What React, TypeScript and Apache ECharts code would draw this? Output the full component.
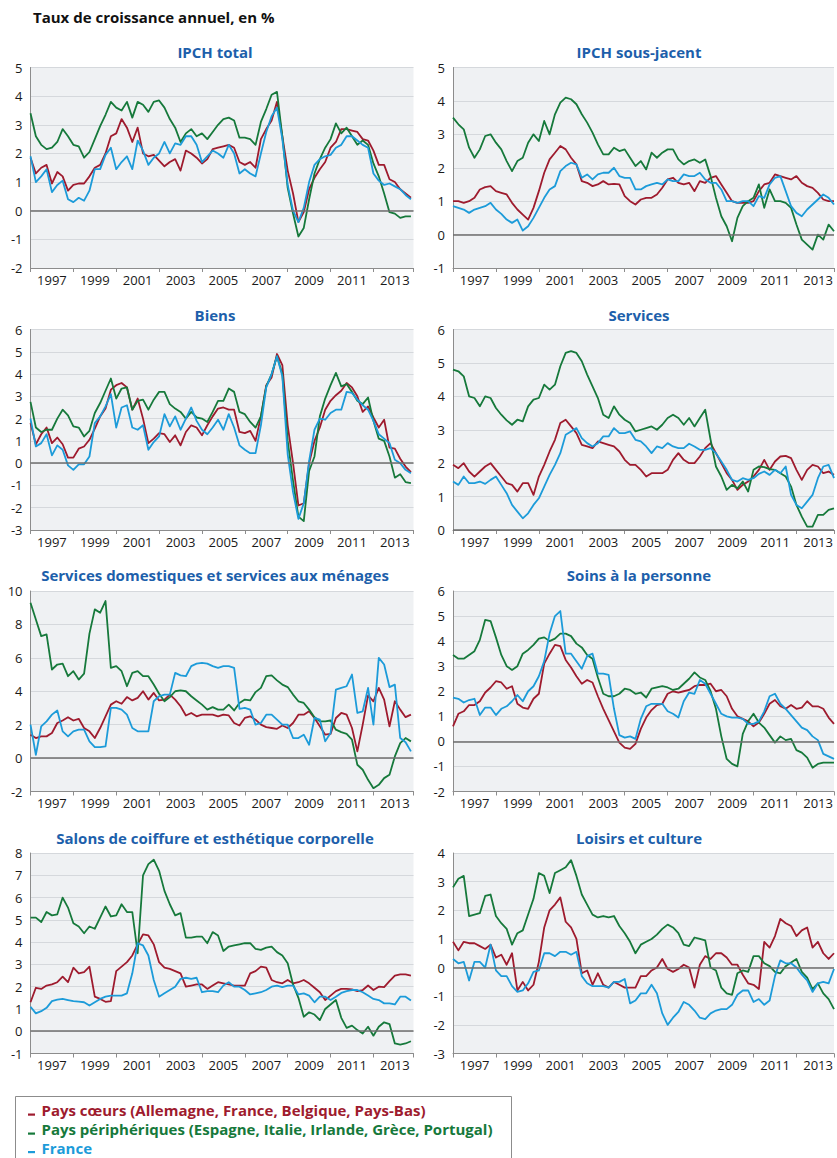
import React, { useEffect, useRef } from "react";
import * as echarts from "echarts";

// Quarterly readings, first value = January 1997, step = 0.25 year
const START_YEAR = 1997;
const STEP = 0.25;

// IPCH total
const totalCore = [
  1.85, 1.3, 1.5, 1.6, 0.95, 1.35, 1.2, 0.7, 0.9, 0.95, 0.95, 1.2,
  1.5, 1.6, 2.0, 2.6, 2.7, 3.2, 2.9, 2.4, 2.9, 2.0, 1.9, 1.95,
  1.75, 1.55, 1.7, 1.8, 1.4, 2.1, 2.0, 1.85, 1.65, 1.8, 2.15, 2.2,
  2.25, 2.3, 2.2, 1.7, 1.6, 1.7, 1.5, 2.5, 2.85, 3.15, 3.8, 2.6,
  1.4, 0.6, -0.4, -0.05, 0.75, 1.15, 1.45, 1.7, 2.2, 2.4, 2.85, 2.85,
  2.8, 2.75, 2.5, 2.45, 2.1, 1.6, 1.6, 1.1, 1.0, 0.75, 0.6, 0.45,
];
const totalPeri = [
  3.4, 2.6, 2.3, 2.15, 2.2, 2.4, 2.85, 2.6, 2.3, 2.25, 1.85, 2.05,
  2.5, 2.95, 3.35, 3.8, 3.6, 3.5, 3.8, 3.25, 3.8, 3.7, 3.45, 3.8,
  3.85, 3.6, 3.2, 2.9, 2.4, 2.7, 2.85, 2.6, 2.7, 2.5, 2.75, 3.0,
  3.2, 3.25, 3.15, 2.55, 2.55, 2.5, 2.3, 3.1, 3.55, 4.05, 4.15, 2.6,
  0.8, -0.1, -0.9, -0.6, 0.4, 1.3, 1.8, 2.2, 2.5, 3.05, 2.7, 2.9,
  2.6, 2.3, 2.45, 2.3, 1.65, 1.2, 0.6, -0.05, -0.1, -0.25, -0.2, -0.2,
];
const totalFr = [
  1.9, 1.0, 1.2, 1.45, 0.65, 0.9, 1.05, 0.4, 0.3, 0.45, 0.35, 0.7,
  1.45, 1.45, 1.95, 2.2, 1.45, 1.7, 1.9, 1.45, 2.45, 2.1, 1.6, 1.85,
  2.0, 2.4, 2.0, 2.35, 2.3, 2.6, 2.6, 2.3, 1.7, 1.9, 2.1, 2.0,
  1.85, 2.3, 2.0, 1.3, 1.45, 1.3, 1.2, 2.0, 2.75, 3.3, 3.6, 2.5,
  0.9, 0.0, -0.4, 0.1, 1.0, 1.6, 1.8, 1.9, 1.95, 2.2, 2.3, 2.6,
  2.6, 2.45, 2.3, 2.2, 1.3, 1.05, 0.9, 0.95, 0.85, 0.75, 0.55, 0.4,
];

// IPCH sous-jacent
const coreCore = [
  1.0, 1.0, 0.95, 1.0, 1.1, 1.35, 1.42, 1.45, 1.3, 1.25, 1.2, 0.95,
  0.75, 0.6, 0.45, 0.8, 1.3, 1.85, 2.25, 2.45, 2.65, 2.55, 2.3, 2.1,
  1.6, 1.55, 1.45, 1.5, 1.6, 1.5, 1.52, 1.5, 1.15, 1.0, 0.9, 1.05,
  1.1, 1.1, 1.2, 1.4, 1.65, 1.7, 1.55, 1.5, 1.55, 1.3, 1.6, 1.55,
  1.7, 1.75, 1.5, 1.25, 1.0, 0.95, 0.95, 0.95, 1.0, 1.3, 1.5, 1.55,
  1.8, 1.75, 1.7, 1.65, 1.75, 1.55, 1.45, 1.4, 1.25, 1.05, 1.0, 1.0,
];
const corePeri = [
  3.5, 3.3, 3.15, 2.6, 2.3, 2.55, 2.95, 3.0, 2.75, 2.55, 2.2, 1.9,
  2.2, 2.3, 2.75, 3.0, 2.8, 3.4, 3.0, 3.6, 3.95, 4.1, 4.05, 3.9,
  3.6, 3.35, 3.05, 2.7, 2.4, 2.4, 2.6, 2.5, 2.55, 2.3, 2.05, 2.2,
  1.95, 2.45, 2.3, 2.45, 2.55, 2.55, 2.25, 2.1, 2.2, 2.25, 2.15, 2.25,
  1.75, 1.1, 0.55, 0.25, -0.2, 0.5, 0.85, 1.0, 1.1, 1.5, 0.8, 1.35,
  1.0, 1.0, 0.95, 0.8, 0.3, -0.15, -0.3, -0.45, 0.0, -0.15, 0.3, 0.1,
];
const coreFr = [
  0.85, 0.8, 0.75, 0.65, 0.75, 0.8, 0.85, 0.95, 0.75, 0.62, 0.45, 0.35,
  0.45, 0.12, 0.25, 0.5, 0.8, 1.1, 1.35, 1.45, 1.9, 2.05, 2.15, 2.1,
  1.7, 1.8, 1.65, 1.8, 1.85, 1.85, 2.0, 1.75, 1.7, 1.7, 1.35, 1.35,
  1.45, 1.5, 1.55, 1.5, 1.65, 1.6, 1.6, 1.8, 1.75, 1.75, 1.85, 1.65,
  1.55, 1.55, 1.35, 1.0, 1.0, 0.95, 1.0, 1.0, 0.85, 1.15, 1.1, 1.5,
  1.7, 1.75, 1.3, 0.85, 0.65, 0.55, 0.75, 0.9, 1.05, 1.2, 1.1, 0.9,
];

// Biens
const goodsCore = [
  1.8, 0.85, 1.3, 1.6, 0.9, 1.15, 0.85, 0.25, 0.25, 0.65, 0.75, 1.05,
  1.55, 2.1, 2.45, 3.3, 3.5, 3.6, 3.4, 2.4, 2.9, 2.0, 0.9, 1.1,
  1.35, 1.3, 0.95, 1.25, 0.8, 1.4, 1.7, 1.6, 1.25, 1.7, 2.1, 2.45,
  2.5, 2.4, 2.4, 1.4, 1.35, 1.45, 1.0, 2.1, 3.5, 3.85, 4.9, 4.4,
  1.7, 0.0, -1.9, -1.8, 0.0, 1.0, 1.6, 2.4, 2.8, 3.05, 3.25, 3.6,
  3.4, 3.0, 2.3, 2.55, 2.05, 1.6, 1.95, 0.7, 0.65, 0.2, -0.15, -0.4,
];
const goodsPeri = [
  2.75, 1.6, 1.4, 1.5, 1.5, 2.0, 2.4, 2.15, 1.65, 1.6, 1.2, 1.45,
  2.25, 2.7, 3.25, 3.8, 2.9, 3.35, 3.4, 2.4, 2.8, 2.85, 2.4, 2.85,
  3.2, 3.2, 2.65, 2.45, 2.3, 2.0, 2.3, 2.05, 2.0, 1.85, 2.3, 2.8,
  2.8, 3.35, 3.2, 2.3, 2.2, 1.85, 1.6, 2.1, 3.45, 4.0, 4.8, 4.0,
  1.0, -0.8, -2.4, -2.6, -0.35, 0.3, 2.1, 2.9, 3.5, 4.05, 3.45, 3.55,
  3.2, 2.8, 2.65, 2.95, 1.9, 1.1, 1.0, 0.3, -0.65, -0.5, -0.85, -0.9,
];
const goodsFr = [
  2.0, 0.75, 0.9, 1.3, 0.35, 0.8, 0.6, -0.1, -0.3, -0.05, -0.05, 0.3,
  1.8, 2.1, 2.55, 3.1, 1.6, 2.5, 2.6, 1.6, 1.5, 1.7, 0.6, 0.95,
  1.2, 2.2, 1.65, 2.1, 1.5, 2.0, 2.5, 1.9, 1.5, 1.3, 1.6, 1.95,
  1.5, 2.2, 1.6, 0.8, 0.6, 0.45, 0.45, 1.7, 3.4, 4.0, 4.8, 3.9,
  0.4, -1.3, -2.5, -1.8, 0.1, 1.5, 2.0, 1.95, 2.25, 2.4, 2.4, 3.2,
  3.15, 2.85, 2.6, 2.4, 1.9, 1.3, 1.1, 0.9, 0.15, 0.0, -0.3, -0.45,
];

// Services
const servCore = [
  1.95, 1.85, 2.0, 1.75, 1.6, 1.75, 1.9, 2.0, 1.8, 1.6, 1.4, 1.35,
  1.15, 1.4, 1.4, 1.05, 1.6, 1.95, 2.35, 2.7, 3.2, 3.3, 3.1, 2.9,
  2.55, 2.5, 2.45, 2.65, 2.6, 2.55, 2.5, 2.35, 2.1, 1.95, 1.95, 1.8,
  1.6, 1.7, 1.7, 1.7, 1.8, 2.1, 2.3, 2.1, 2.0, 2.0, 2.2, 2.45,
  2.6, 2.3, 2.0, 1.7, 1.5, 1.2, 1.35, 1.45, 1.6, 1.8, 2.1, 1.8,
  2.05, 2.2, 2.22, 2.15, 1.8, 1.5, 1.8, 1.95, 1.9, 1.7, 1.75, 1.65,
];
const servPeri = [
  4.8, 4.75, 4.6, 4.0, 3.95, 3.7, 4.0, 3.95, 3.65, 3.45, 3.28, 3.15,
  3.3, 3.25, 3.7, 3.9, 3.95, 4.35, 4.2, 4.35, 4.9, 5.3, 5.35, 5.3,
  5.05, 4.65, 4.3, 3.95, 3.45, 3.35, 3.7, 3.45, 3.3, 3.2, 2.95, 3.0,
  3.05, 3.1, 3.0, 3.15, 3.35, 3.45, 3.35, 3.15, 3.35, 3.1, 3.35, 3.6,
  2.7, 1.9, 1.6, 1.2, 1.35, 1.25, 1.45, 1.15, 1.8, 1.9, 1.88, 1.82,
  1.8, 1.7, 1.6, 1.3, 0.75, 0.4, 0.1, 0.1, 0.45, 0.45, 0.6, 0.65,
];
const servFr = [
  1.45, 1.35, 1.6, 1.4, 1.4, 1.45, 1.38, 1.5, 1.6, 1.35, 1.1, 0.75,
  0.55, 0.35, 0.5, 0.75, 0.95, 1.3, 1.65, 1.95, 2.3, 2.85, 2.95, 3.05,
  2.75, 2.6, 2.5, 2.6, 2.8, 2.8, 3.05, 2.9, 2.9, 2.95, 2.7, 2.65,
  2.5, 2.3, 2.5, 2.45, 2.6, 2.5, 2.45, 2.45, 2.58, 2.5, 2.4, 2.4,
  2.45, 2.3, 2.05, 1.8, 1.5, 1.45, 1.55, 1.5, 1.55, 1.68, 1.75, 1.65,
  1.8, 1.7, 1.9, 1.05, 0.75, 0.65, 0.85, 1.05, 1.55, 1.9, 1.95, 1.55,
];

// Services domestiques et services aux ménages
const domCore = [
  1.4, 1.2, 1.3, 1.3, 1.5, 2.1, 2.25, 2.45, 2.25, 2.35, 1.8, 1.6,
  1.2, 1.8, 2.5, 3.2, 3.4, 3.25, 3.65, 3.45, 3.6, 4.0, 3.5, 3.9,
  3.45, 3.5, 3.8, 3.5, 3.1, 2.55, 2.7, 2.5, 2.6, 2.6, 2.6, 2.5,
  2.6, 2.55, 2.1, 1.95, 2.4, 2.5, 2.3, 2.0, 1.85, 1.8, 1.75, 1.95,
  1.8, 2.1, 2.6, 2.6, 2.8, 2.4, 1.9, 1.4, 1.45, 2.4, 2.7, 2.6,
  1.8, 0.4, 2.0, 3.75, 3.4, 4.2, 3.5, 1.9, 3.4, 2.9, 2.45, 2.6,
];
const domPeri = [
  9.3, 8.3, 7.3, 7.4, 5.3, 5.6, 5.65, 4.9, 5.2, 4.7, 5.05, 7.45,
  8.9, 8.7, 9.4, 5.4, 5.5, 5.2, 4.3, 5.1, 5.2, 4.9, 4.9, 4.4,
  3.85, 3.4, 3.65, 4.0, 4.05, 4.0, 3.7, 3.45, 3.2, 2.9, 3.05, 2.9,
  2.9, 3.2, 2.85, 3.3, 3.5, 3.45, 3.95, 4.2, 4.9, 4.95, 4.65, 4.4,
  4.25, 3.8, 3.4, 3.3, 2.9, 2.45, 2.2, 2.2, 2.25, 1.7, 1.55, 1.45,
  1.1, -0.4, -0.7, -1.3, -1.8, -1.6, -1.2, -1.0, 0.1, 0.9, 1.2, 1.0,
];
const domFr = [
  2.0, 0.2, 1.9, 2.2, 2.6, 2.85, 1.6, 1.3, 1.6, 1.7, 1.7, 1.0,
  0.65, 0.65, 0.7, 3.0, 3.0, 2.9, 2.6, 1.8, 1.6, 1.6, 1.6, 3.4,
  3.7, 3.8, 3.8, 5.1, 4.95, 4.9, 5.5, 5.65, 5.7, 5.65, 5.5, 5.4,
  5.5, 5.5, 5.4, 2.95, 3.0, 2.9, 2.0, 2.1, 2.6, 2.6, 2.3, 2.0,
  2.0, 1.2, 1.2, 1.4, 0.8, 2.4, 2.3, 1.0, 1.5, 4.1, 4.2, 4.3,
  5.0, 2.7, 2.8, 4.2, 2.0, 6.0, 5.6, 4.25, 4.4, 1.2, 0.95, 0.4,
];

// Soins à la personne
const careCore = [
  0.6, 1.1, 1.2, 1.45, 1.45, 1.6, 1.95, 2.15, 2.4, 2.35, 2.1, 2.2,
  1.5, 1.35, 1.3, 1.7, 1.9, 3.1, 3.5, 3.85, 3.8, 3.25, 2.95, 2.6,
  2.3, 2.45, 2.35, 1.8, 1.3, 0.85, 0.4, -0.05, -0.25, -0.3, -0.1, 0.5,
  0.95, 1.25, 1.45, 1.5, 1.9, 2.0, 1.95, 2.0, 2.05, 2.2, 2.25, 2.25,
  2.3, 2.0, 2.05, 1.8, 1.3, 1.0, 0.9, 0.8, 0.6, 0.75, 1.1, 1.5,
  1.65, 1.4, 1.3, 1.45, 1.3, 1.35, 1.6, 1.4, 1.4, 1.3, 0.95, 0.7,
];
const carePeri = [
  3.45, 3.3, 3.3, 3.45, 3.6, 4.05, 4.85, 4.8, 4.15, 3.45, 3.0, 2.85,
  3.0, 3.5, 3.65, 3.85, 4.1, 4.15, 4.0, 4.1, 4.3, 4.3, 4.2, 3.9,
  3.75, 3.45, 3.3, 2.55, 1.9, 1.8, 1.8, 1.9, 2.1, 2.05, 1.9, 1.95,
  1.75, 2.1, 2.15, 2.2, 2.15, 2.05, 2.1, 2.3, 2.5, 2.75, 2.55, 2.45,
  2.0, 1.3, 0.2, -0.7, -0.9, -1.0, 0.3, 0.8, 1.1, 0.75, 0.55, 0.25,
  -0.05, 0.2, 0.05, 0.1, -0.35, -0.45, -0.65, -1.05, -0.9, -0.85, -0.85, -0.85,
];
const careFr = [
  1.75, 1.7, 1.55, 1.65, 1.7, 1.05, 1.35, 1.35, 1.05, 1.3, 1.4, 1.6,
  1.85, 1.6, 2.0, 2.2, 2.6, 3.2, 4.3, 5.0, 5.2, 3.5, 3.5, 3.2,
  2.9, 3.4, 3.5, 2.7, 2.7, 2.65, 1.3, 0.25, 0.15, 0.2, 0.1, 0.9,
  1.4, 1.5, 1.5, 1.5, 1.2, 1.1, 0.95, 1.6, 1.95, 1.9, 2.45, 2.3,
  1.9, 1.5, 1.1, 1.0, 0.95, 0.95, 0.9, 0.7, 0.7, 0.8, 1.2, 1.8,
  1.9, 1.5, 1.3, 1.05, 0.8, 0.55, 0.45, 0.2, 0.05, -0.5, -0.6, -0.7,
];

// Salons de coiffure et esthétique corporelle
const hairCore = [
  1.3, 1.95, 1.9, 2.05, 2.1, 2.2, 2.45, 2.2, 2.85, 2.6, 2.65, 2.9,
  1.55, 1.45, 1.32, 1.35, 2.7, 2.9, 3.1, 3.4, 3.9, 4.35, 4.3, 3.9,
  3.1, 2.85, 2.8, 2.7, 2.6, 2.0, 2.05, 2.1, 2.1, 1.9, 2.05, 2.2,
  2.15, 2.1, 2.05, 2.05, 2.05, 2.6, 2.7, 2.9, 2.85, 2.3, 2.2, 2.15,
  2.3, 2.15, 2.2, 2.3, 2.15, 1.95, 1.75, 1.4, 1.6, 1.8, 1.9, 1.9,
  1.88, 1.8, 1.85, 2.05, 1.85, 2.0, 1.98, 2.25, 2.5, 2.55, 2.55, 2.5,
];
const hairPeri = [
  5.1, 5.1, 4.9, 5.35, 5.2, 5.25, 6.0, 5.55, 4.85, 4.7, 4.4, 4.7,
  4.6, 5.1, 5.6, 5.15, 5.2, 5.7, 5.35, 5.35, 3.5, 7.0, 7.5, 7.7,
  7.2, 6.3, 5.7, 5.2, 5.3, 4.2, 4.2, 4.25, 4.25, 3.95, 4.45, 4.3,
  3.6, 3.8, 3.85, 3.9, 3.95, 3.95, 3.7, 3.65, 3.75, 3.8, 3.55, 3.4,
  3.05, 2.1, 1.5, 0.65, 0.85, 0.75, 0.5, 1.0, 1.2, 1.4, 0.6, 0.15,
  0.25, 0.05, -0.1, 0.2, -0.2, 0.2, 0.4, 0.32, -0.55, -0.6, -0.55, -0.45,
];
const hairFr = [
  1.1, 0.8, 0.9, 1.05, 1.35, 1.42, 1.45, 1.4, 1.35, 1.33, 1.3, 1.15,
  1.3, 1.45, 1.55, 1.6, 1.6, 1.6, 1.7, 2.6, 3.95, 3.85, 3.4, 2.3,
  1.55, 1.7, 1.85, 2.0, 2.35, 2.4, 2.35, 2.4, 1.75, 1.8, 1.8, 1.75,
  2.05, 2.2, 2.0, 2.0, 1.85, 1.65, 1.7, 1.75, 1.85, 2.0, 2.05, 1.98,
  2.05, 2.05, 1.65, 1.7, 1.6, 1.3, 1.55, 1.55, 1.4, 1.55, 1.72, 1.8,
  1.85, 1.85, 1.75, 1.6, 1.45, 1.4, 1.25, 1.25, 1.2, 1.55, 1.55, 1.38,
];

// Loisirs et culture
const leisCore = [
  0.9, 0.6, 0.9, 0.85, 0.85, 0.75, 0.65, 0.8, 0.35, 0.45, 0.1, 0.5,
  -0.8, -0.5, -0.8, -0.6, 0.2, 1.4, 2.0, 2.2, 2.45, 1.6, 1.4, 1.0,
  -0.2, -0.1, -0.6, -0.2, -0.6, -0.7, -0.5, -0.6, -0.7, -0.7, -0.7, -0.3,
  -0.3, -0.1, 0.0, 0.3, -0.05, -0.15, -0.05, 0.1, 0.0, -0.7, 0.1, 0.4,
  0.3, 0.5, 0.5, 0.35, 0.1, 0.1, -0.25, -0.55, -0.6, -0.75, 0.9, 0.7,
  1.1, 1.7, 1.55, 1.45, 1.1, 1.3, 1.4, 0.7, 0.9, 0.5, 0.3, 0.5,
];
const leisPeri = [
  2.8, 3.1, 3.2, 1.8, 1.85, 1.9, 2.5, 2.55, 1.8, 1.55, 1.35, 0.8,
  1.2, 1.3, 1.85, 2.4, 3.3, 3.2, 2.6, 3.3, 3.4, 3.5, 3.75, 3.2,
  2.55, 2.2, 1.85, 1.75, 1.8, 1.75, 1.8, 1.45, 1.2, 0.9, 0.5, 0.8,
  0.9, 1.0, 1.15, 1.35, 1.5, 1.4, 1.2, 0.8, 0.75, 1.05, 1.0, 0.95,
  0.0, -0.1, -0.7, -0.9, -0.95, -0.2, -0.1, -0.15, 0.4, 0.4, 0.15, 0.05,
  -0.15, -0.2, 0.05, 0.18, 0.3, -0.15, -0.35, -0.75, -0.55, -0.9, -1.1, -1.45,
];
const leisFr = [
  0.3, 0.15, 0.2, -0.45, 0.2, 0.2, 0.0, 0.8, -0.1, -0.3, -0.3, -0.65,
  -0.85, -0.8, -0.55, -0.15, -0.1, 0.5, 0.5, 0.4, 0.55, 0.55, 0.45, 0.55,
  -0.3, -0.55, -0.65, -0.65, -0.65, -0.7, -0.5, -0.5, -0.4, -1.25, -1.15, -0.9,
  -0.9, -0.6, -0.9, -1.6, -2.0, -1.75, -1.55, -1.2, -1.3, -1.5, -1.75, -1.8,
  -1.6, -1.5, -1.45, -1.45, -1.3, -0.95, -0.8, -0.8, -1.2, -1.1, -1.3, -1.15,
  -0.3, 0.25, 0.15, 0.15, 0.0, -0.25, -0.45, -0.85, -0.55, -0.5, -0.55, -0.05,
];

const panelTitles = [
  "IPCH total",
  "IPCH sous-jacent",
  "Biens",
  "Services",
  "Services domestiques et services aux ménages",
  "Soins à la personne",
  "Salons de coiffure et esthétique corporelle",
  "Loisirs et culture",
];
const panelSeries = [
  [totalCore, totalPeri, totalFr],
  [coreCore, corePeri, coreFr],
  [goodsCore, goodsPeri, goodsFr],
  [servCore, servPeri, servFr],
  [domCore, domPeri, domFr],
  [careCore, carePeri, careFr],
  [hairCore, hairPeri, hairFr],
  [leisCore, leisPeri, leisFr],
];
const yMins = [-2, -1, -3, 0, -2, -2, -1, -3];
const yMaxs = [5, 5, 6, 6, 10, 6, 8, 4];
const yIntervals = [1, 1, 1, 1, 2, 1, 1, 1];

const legendLabels = [
  "Pays cœurs (Allemagne, France, Belgique, Pays-Bas)",
  "Pays périphériques (Espagne, Italie, Irlande, Grèce, Portugal)",
  "France",
];
const mainTitle = "Taux de croissance annuel, en %";

const COLORS = ["#9e1b2e", "#16793b", "#1c9bd9"];
const TITLE_BLUE = "#1d5fab";
const FONT = "'Open Sans', Lato, sans-serif";

// layout (pixels)
const colLeft = [30.5, 453];
const colWidth = [383, 384];
const colXMax = [17.87, 17.75];
const colTitleX = [215, 639];
const rowTop = [67.5, 329.5, 591, 853];
const rowTitleY = [52, 315, 575, 838];
const GRID_H = 200.5;

export default function App() {
  const ref = useRef<HTMLDivElement>(null);

  useEffect(() => {
    const chart = echarts.init(ref.current!, null, { renderer: "svg" });

    const grids: any[] = [];
    const xAxes: any[] = [];
    const yAxes: any[] = [];
    const series: any[] = [];
    const graphics: any[] = [];

    panelTitles.forEach((title, i) => {
      const col = i % 2;
      const row = Math.floor(i / 2);
      grids.push({
        left: colLeft[col],
        top: rowTop[row],
        width: colWidth[col],
        height: GRID_H,
        show: true,
        backgroundColor: "#eff1f3",
        borderWidth: 0,
      });
      const yearPx = colWidth[col] / colXMax[col];
      xAxes.push({
        type: "value",
        gridIndex: i,
        min: 0,
        max: colXMax[col],
        interval: 2,
        axisLine: { show: true, onZero: false, lineStyle: { color: "#8c8c8c", width: 1 } },
        axisTick: { show: true, length: 4, lineStyle: { color: "#8c8c8c" } },
        splitLine: { show: false },
        axisLabel: {
          formatter: (v: number) =>
            Math.abs(v - Math.round(v)) < 1e-6 && Math.round(v) % 2 === 0
              ? String(START_YEAR + Math.round(v))
              : "",
          padding: [0, 0, 0, yearPx * 2],
          margin: 5,
          color: "#1a1a1a",
          fontSize: 13,
          fontFamily: FONT,
        },
      });
      yAxes.push({
        type: "value",
        gridIndex: i,
        min: yMins[i],
        max: yMaxs[i],
        interval: yIntervals[i],
        axisLine: { show: true, lineStyle: { color: "#8c8c8c", width: 1 } },
        axisTick: { show: false },
        splitLine: { show: true, lineStyle: { color: "#d5d8dc", width: 1 } },
        axisLabel: { color: "#1a1a1a", fontSize: 13, fontFamily: FONT, margin: 8 },
      });
      panelSeries[i].forEach((vals, k) => {
        const s: any = {
          type: "line",
          xAxisIndex: i,
          yAxisIndex: i,
          data: vals.map((v, j) => [j * STEP, v]),
          showSymbol: false,
          symbol: "none",
          silent: true,
          lineStyle: { color: COLORS[k], width: 1.8, join: "round" },
          itemStyle: { color: COLORS[k] },
          animation: false,
        };
        if (k === 0) {
          s.markLine = {
            silent: true,
            symbol: ["none", "none"],
            label: { show: false },
            lineStyle: { color: "#6e6e6e", width: 1.5, type: "solid" },
            data: [{ yAxis: 0 }],
            animation: false,
          };
        }
        series.push(s);
      });
      graphics.push({
        type: "text",
        x: colTitleX[col],
        y: rowTitleY[row],
        style: {
          text: title,
          font: `bold 15px ${FONT}`,
          fill: TITLE_BLUE,
          textAlign: "center",
          textVerticalAlign: "middle",
          align: "center",
          verticalAlign: "middle",
        },
      });
    });

    graphics.push({
      type: "text",
      x: 33,
      y: 17,
      style: {
        text: mainTitle,
        font: `bold 15px ${FONT}`,
        fill: "#111111",
        textAlign: "left",
        textVerticalAlign: "middle",
        align: "left",
        verticalAlign: "middle",
      },
    });

    graphics.push({
      type: "rect",
      shape: { x: 15.5, y: 1096.5, width: 496, height: 80 },
      style: { fill: "#ffffff", stroke: "#8c8c8c", lineWidth: 1 },
    });
    const legendY = [1110, 1129, 1147.5];
    legendLabels.forEach((lab, k) => {
      graphics.push({
        type: "rect",
        shape: { x: 28, y: legendY[k] + 3.5, width: 7, height: 2.2 },
        style: { fill: COLORS[k] },
      });
      graphics.push({
        type: "text",
        x: 41.5,
        y: legendY[k],
        style: {
          text: lab,
          font: `bold 15px ${FONT}`,
          fill: COLORS[k],
          textAlign: "left",
          textVerticalAlign: "middle",
          align: "left",
          verticalAlign: "middle",
        },
      });
    });

    chart.setOption({
      animation: false,
      backgroundColor: "#ffffff",
      grid: grids,
      xAxis: xAxes,
      yAxis: yAxes,
      series,
      graphic: graphics,
    });

    return () => chart.dispose();
  }, []);

  return (
    <div
      ref={ref}
      style={{ position: "absolute", left: 0, top: 0, width: 837, height: 1158, background: "#fff" }}
    />
  );
}
